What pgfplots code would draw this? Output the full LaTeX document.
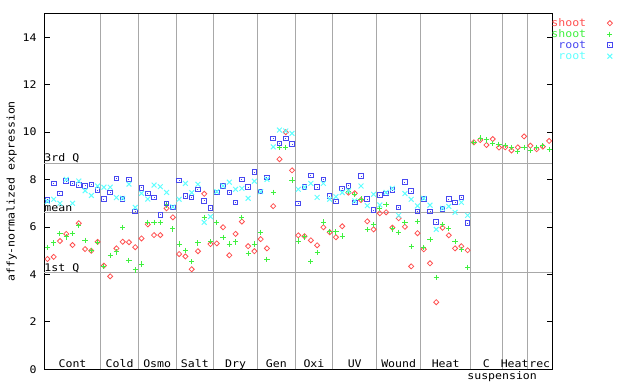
\documentclass[border=0pt]{standalone}
\usepackage{fontspec}
\setmainfont{DejaVu Sans Mono}[FakeStretch=1.1]
\usepackage{pgfplots}
\pgfplotsset{compat=1.18}
\usepackage{pgfplotstable}
\definecolor{cRed}{RGB}{255,80,80}
\definecolor{cGreen}{RGB}{64,240,64}
\definecolor{cBlue}{RGB}{72,72,240}
\definecolor{cCyan}{RGB}{96,255,255}
\definecolor{gridgray}{RGB}{168,168,168}
\pgfdeclareplotmark{sqdot}{%
  \pgfpathrectangle{\pgfqpoint{-\pgfplotmarksize}{-\pgfplotmarksize}}{\pgfqpoint{2\pgfplotmarksize}{2\pgfplotmarksize}}\pgfusepathqstroke
  \pgfpathrectangle{\pgfqpoint{-0.5pt}{-0.5pt}}{\pgfqpoint{1pt}{1pt}}\pgfusepathqfill}

\pgfplotstableread{
x y
0.5 4.65
1.5 4.74
2.5 5.41
3.5 5.71
4.5 5.24
5.5 6.16
6.5 5.07
7.5 5.00
8.5 5.37
9.5 4.37
10.5 3.92
11.5 5.10
12.5 5.38
13.5 5.36
14.5 5.15
15.5 5.52
16.5 6.11
17.5 5.66
18.5 5.66
19.5 6.79
20.5 6.41
21.5 4.86
22.5 4.76
23.5 4.22
24.5 4.98
25.5 7.40
26.5 5.28
27.5 5.31
28.5 5.99
29.5 4.81
30.5 5.71
31.5 6.23
32.5 5.19
33.5 4.98
34.5 5.49
35.5 5.10
36.5 6.88
37.5 8.86
38.5 10.00
39.5 8.39
40.5 5.65
41.5 5.61
42.5 5.44
43.5 5.23
44.5 5.99
45.5 5.78
46.5 5.57
47.5 6.03
48.5 7.45
49.5 7.42
50.5 7.14
51.5 6.24
52.5 5.90
53.5 6.58
54.5 6.62
55.5 5.97
56.5 6.37
57.5 6.01
58.5 4.34
59.5 5.74
60.5 5.06
61.5 4.47
62.5 2.83
63.5 5.97
64.5 5.65
65.5 5.10
66.5 5.19
67.5 5.02
68.5 9.57
69.5 9.67
70.5 9.46
71.5 9.71
72.5 9.35
73.5 9.36
74.5 9.23
75.5 9.36
76.5 9.82
77.5 9.43
78.5 9.28
79.5 9.39
80.5 9.63
}\redT

\pgfplotstableread{
x y
0.5 5.15
1.5 5.33
2.5 5.71
3.5 5.58
4.5 5.74
5.5 6.07
6.5 5.44
7.5 5.00
8.5 5.36
9.5 4.34
10.5 4.81
11.5 4.95
12.5 5.99
13.5 4.60
14.5 4.19
15.5 4.44
16.5 6.20
17.5 6.20
18.5 6.20
19.5 6.93
20.5 5.92
21.5 5.28
22.5 5.02
23.5 4.53
24.5 5.33
25.5 6.41
26.5 5.38
27.5 6.20
28.5 5.57
29.5 5.28
30.5 5.37
31.5 6.41
32.5 4.90
33.5 5.28
34.5 5.78
35.5 4.64
36.5 7.47
37.5 9.36
38.5 9.36
39.5 7.98
40.5 5.41
41.5 5.58
42.5 4.55
43.5 4.93
44.5 6.21
45.5 5.82
46.5 5.79
47.5 5.62
48.5 7.49
49.5 7.38
50.5 7.18
51.5 5.90
52.5 6.09
53.5 6.79
54.5 6.96
55.5 5.92
56.5 5.78
57.5 6.20
58.5 5.19
59.5 6.24
60.5 5.15
61.5 5.48
62.5 3.88
63.5 6.09
64.5 5.95
65.5 5.40
66.5 5.06
67.5 4.30
68.5 9.57
69.5 9.75
70.5 9.67
71.5 9.53
72.5 9.49
73.5 9.45
74.5 9.35
75.5 9.20
76.5 9.36
77.5 9.22
78.5 9.37
79.5 9.43
80.5 9.28
}\greenT

\pgfplotstableread{
x y
0.5 7.14
1.5 7.84
2.5 7.42
3.5 7.94
4.5 7.84
5.5 7.77
6.5 7.73
7.5 7.80
8.5 7.55
9.5 7.17
10.5 7.45
11.5 8.05
12.5 7.18
13.5 8.01
14.5 6.66
15.5 7.65
16.5 7.42
17.5 7.25
18.5 6.51
19.5 7.00
20.5 6.82
21.5 7.97
22.5 7.30
23.5 7.24
24.5 7.59
25.5 7.10
26.5 6.79
27.5 7.45
28.5 7.73
29.5 7.46
30.5 7.04
31.5 8.01
32.5 7.68
33.5 8.31
34.5 7.49
35.5 8.09
36.5 9.74
37.5 9.53
38.5 9.74
39.5 9.49
40.5 7.00
41.5 7.68
42.5 8.18
43.5 7.68
44.5 8.01
45.5 7.30
46.5 7.08
47.5 7.63
48.5 7.73
49.5 7.04
50.5 8.15
51.5 7.17
52.5 6.71
53.5 7.35
54.5 7.41
55.5 7.56
56.5 6.83
57.5 7.89
58.5 7.51
59.5 6.66
60.5 7.17
61.5 6.66
62.5 6.20
63.5 6.75
64.5 7.17
65.5 7.04
66.5 7.25
67.5 6.16
}\blueT

\pgfplotstableread{
x y
0.5 7.08
1.5 7.17
2.5 7.00
3.5 8.01
4.5 7.00
5.5 7.94
6.5 7.53
7.5 7.33
8.5 7.73
9.5 7.68
10.5 7.68
11.5 7.24
12.5 7.21
13.5 7.81
14.5 6.83
15.5 7.42
16.5 7.18
17.5 7.77
18.5 7.70
19.5 7.46
20.5 6.85
21.5 7.17
22.5 7.84
23.5 7.45
24.5 7.80
25.5 6.20
26.5 6.44
27.5 7.49
28.5 7.73
29.5 7.89
30.5 7.59
31.5 7.63
32.5 7.21
33.5 7.93
34.5 7.49
35.5 8.01
36.5 9.38
37.5 10.09
38.5 10.05
39.5 9.95
40.5 7.59
41.5 7.68
42.5 7.84
43.5 7.25
44.5 7.84
45.5 7.17
46.5 7.28
47.5 7.45
48.5 7.53
49.5 7.10
50.5 7.73
51.5 6.90
52.5 7.38
53.5 6.93
54.5 7.46
55.5 7.63
56.5 6.49
57.5 7.41
58.5 7.17
59.5 6.89
60.5 7.21
61.5 6.92
62.5 5.90
63.5 6.79
64.5 6.87
65.5 6.62
66.5 7.04
67.5 6.49
}\cyanT

\begin{document}
\fontsize{10.5bp}{12bp}\selectfont%
\begin{tikzpicture}
\path[use as bounding box] (-44.3bp,-14.7bp) rectangle (595.7bp,369.3bp);
\begin{axis}[
  at={(0,0)}, anchor=south west,
  scale only axis, width=508bp, height=355.7bp,
  xmin=0, xmax=81, ymin=0, ymax=15,
  xtick=\empty,
  ytick={0,2,4,6,8,10,12,14},
  ytick pos=both, yticklabel pos=left, tick align=inside,
  major tick length=5.5bp,
  tick style={black, line width=1bp},
  axis line style={black, line width=1bp},
  yticklabel style={inner sep=0pt, xshift=-7.6bp},
  /pgf/number format/assume math mode=true,
  extra x ticks={9,15,21,27,34,40,46,53,60,68,73,77},
  extra x tick labels={},
  extra x tick style={grid=major, major tick length=0pt},
  extra y ticks={4.09,6.62,8.69},
  extra y tick labels={},
  extra y tick style={grid=major, major tick length=0pt},
  grid style={color=gridgray, line width=1bp},
  every axis y label/.style={at={(axis description cs:-0.0642,0.5)}, rotate=90, anchor=center},
  ylabel={affy-normalized expression},
  clip=false,
  legend plot pos=right,
  legend cell align=right,
  legend style={at={(rel axis cs:1.0657,0.9857)}, anchor=north west, draw=none, fill=none,
    inner sep=0pt, outer sep=0pt, row sep=0pt, column sep=0pt,
    nodes={inner sep=0pt, text height=8bp, text depth=3bp}},
  legend image code/.code={\path (0bp,0bp); \draw[#1, only marks] plot coordinates {(23bp,1bp)};},
]
\addplot[only marks, mark=square, mark size=1.8bp, mark options={rotate=45, draw=cRed, line width=0.8bp}] table[x=x,y=y] {\redT};
\addlegendentry{\makebox[0pt][r]{\textcolor{cRed}{shoot}}}
\addplot[only marks, mark=+, mark size=2.6bp, mark options={draw=cGreen, line width=1bp}] table[x=x,y=y] {\greenT};
\addlegendentry{\makebox[0pt][r]{\textcolor{cGreen}{shoot}}}
\addplot[only marks, mark=sqdot, mark size=2.3bp, mark options={draw=cBlue, fill=cBlue, line width=1bp}] table[x=x,y=y] {\blueT};
\addlegendentry{\makebox[0pt][r]{\textcolor{cBlue}{root}}}
\addplot[only marks, mark=x, mark size=3.4bp, mark options={draw=cCyan, line width=1bp}] table[x=x,y=y] {\cyanT};
\addlegendentry{\makebox[0pt][r]{\textcolor{cCyan}{root}}}

\node[anchor=base west, inner sep=0pt] at (axis cs:0,8.69) [yshift=1.5bp] {3rd Q};
\node[anchor=base west, inner sep=0pt] at (axis cs:0,6.62) [yshift=1bp] {mean};
\node[anchor=base west, inner sep=0pt] at (axis cs:0,4.09) [yshift=1bp] {1st Q};

\node[anchor=base, inner sep=0pt] at (axis cs:4.5,0.06) {Cont};
\node[anchor=base, inner sep=0pt] at (axis cs:12,0.06) {Cold};
\node[anchor=base, inner sep=0pt] at (axis cs:18,0.06) {Osmo};
\node[anchor=base, inner sep=0pt] at (axis cs:24,0.06) {Salt};
\node[anchor=base, inner sep=0pt] at (axis cs:30.5,0.06) {Dry};
\node[anchor=base, inner sep=0pt] at (axis cs:37,0.06) {Gen};
\node[anchor=base, inner sep=0pt] at (axis cs:43,0.06) {Oxi};
\node[anchor=base, inner sep=0pt] at (axis cs:49.5,0.06) {UV};
\node[anchor=base, inner sep=0pt] at (axis cs:56.5,0.06) {Wound};
\node[anchor=base, inner sep=0pt] at (axis cs:64,0.06) {Heat};
\node[anchor=base, inner sep=0pt] at (axis cs:70.5,0.06) {C};
\node[anchor=base, inner sep=0pt] at (axis cs:73,-0.42) {suspension};
\node[anchor=base, inner sep=0pt] at (axis cs:75,0.06) {Heat};
\node[anchor=base, inner sep=0pt] at (axis cs:79,0.06) {rec};
\end{axis}
\end{tikzpicture}
\end{document}
